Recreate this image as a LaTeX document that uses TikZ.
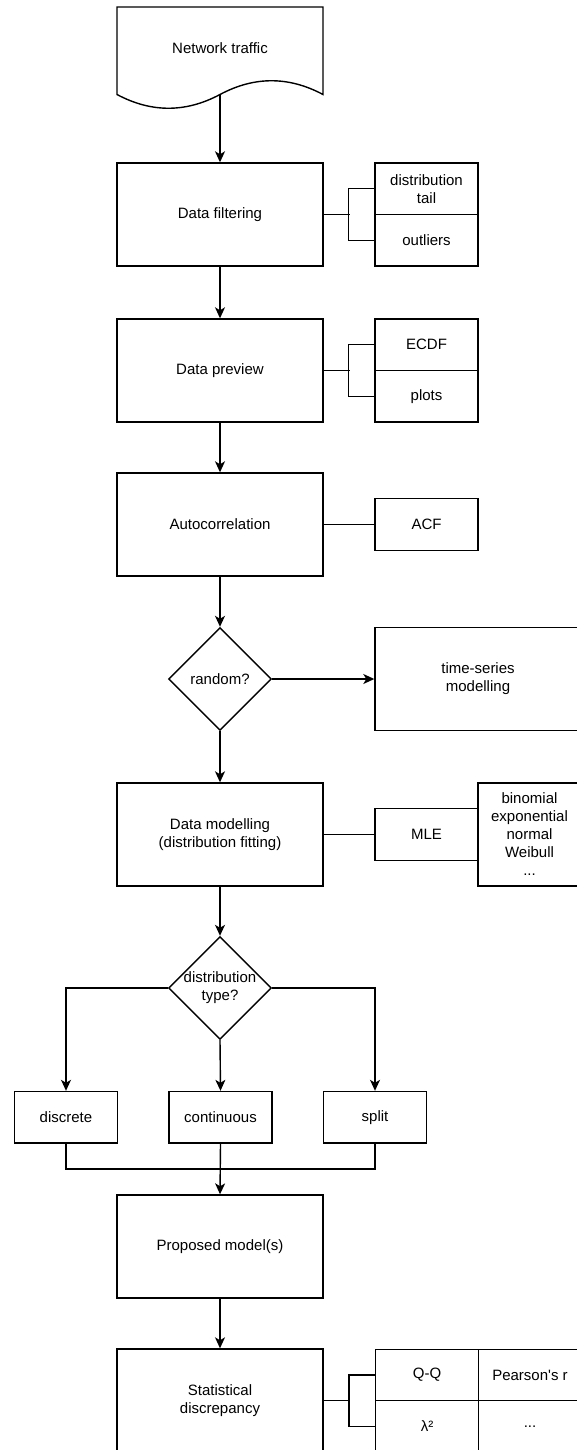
\documentclass[tikz,border=0pt]{standalone}
\usepackage{fontspec}
\setmainfont{Liberation Sans}
\usetikzlibrary{arrows.meta,shapes.geometric}

\tikzset{
  link/.style={draw=black, line width=1.4pt, line join=miter},
  flow/.style={link, -{Stealth[length=11pt,width=10pt,inset=3pt]}},
  base/.style={link, fill=white, align=center, inner sep=0pt,
    font=\fontsize{15pt}{18pt}\selectfont},
  proc/.style={base, minimum width=206pt, minimum height=103pt},
  cell/.style={base, minimum width=103pt, minimum height=51.5pt},
  tallcell/.style={base, minimum width=103pt, minimum height=103pt},
  decide/.style={base, shape=diamond, minimum width=103pt, minimum height=103pt,
    aspect=1},
  caption/.style={align=center, inner sep=0pt,
    font=\fontsize{15pt}{18pt}\selectfont},
}

\begin{document}
\begin{tikzpicture}[x=1pt, y=-1pt]
  \fill[white] (0,0) rectangle (576,1450);
  \useasboundingbox (0,0) rectangle (576,1450);

  % source document with wavy lower edge
  \draw[link, fill=white] (117,7) -- (323,7) -- (323,94.5)
    .. controls (288.67,76.17) and (254.33,76.17) .. (220,94.5)
    .. controls (185.67,112.83) and (151.33,112.83) .. (117,94.5) -- cycle;
  \node[caption] (net) at (220,48) {Network traffic};
  \coordinate (netb) at (220,94.5);

  % main column
  \node[proc] (filt)  at (220,214.5)  {Data filtering};
  \node[proc] (prev)  at (220,370.5)  {Data preview};
  \node[proc] (auto)  at (220,524.5)  {Autocorrelation};
  \node[decide, label={[caption, name=rndt]center:random?}] (rnd) at (220,679) {};
  \node[proc] (model) at (220,834.5)  {Data modelling\\(distribution fitting)};
  \node[decide, label={[caption, name=typt]center:distribution\\type?}] (typ) at (220,988) {};
  \node[proc] (prop)  at (220,1246.5) {Proposed model(s)};
  \node[proc] (stat)  at (220,1400.5) {Statistical\\discrepancy};

  % distribution kinds
  \node[cell] (disc)  at (66,1117.25)    {discrete};
  \node[cell] (cont)  at (220.5,1117.25) {continuous};
  \node[cell] (split) at (375,1117.25)   {split};
  \coordinate (mrg) at (220.5,1169);

  % side items
  \node[cell] (tail)  at (426.5,188.75)  {distribution\\tail};
  \node[cell] (outl)  at (426.5,240.25)  {outliers};
  \node[cell] (ecdf)  at (426.5,344.75)  {ECDF};
  \node[cell] (plots) at (426.5,396.25)  {plots};
  \node[cell] (acf)   at (426.5,524.5)   {ACF};
  \node[proc] (ts)    at (478,679)       {time-series\\modelling};
  \node[cell] (mle)   at (426.5,834.5)   {MLE};
  \node[tallcell] (dists) at (529.5,834.5) {binomial\\exponential\\normal\\Weibull\\...};
  \node[cell] (qq)    at (427,1375)      {Q-Q};
  \node[cell] (pear)  at (530,1375)      {Pearson\textquotesingle s r};
  \node[cell] (lam)   at (427,1426.5)    {λ²};
  \node[cell] (more)  at (530,1426.5)    {...};

  % main flow
  \draw[flow] (netb) -- (filt.north);
  \draw[flow] (filt) -- (prev);
  \draw[flow] (prev) -- (auto);
  \draw[flow] (auto.south) -- (rnd.north);
  \draw[flow] (rnd.east) -- (ts.west);
  \draw[flow] (rnd.south) -- (model.north);
  \draw[flow] (model.south) -- (typ.north);
  \draw[flow] (typ.west) -| (disc.north);
  \draw[flow] (typ.south) -- (cont.north);
  \draw[flow] (typ.east) -| (split.north);
  \draw[link] (disc.south) |- (mrg);
  \draw[link] (split.south) |- (mrg);
  \draw[flow] (cont.south) -- (prop.north);
  \draw[flow] (prop) -- (stat);

  % brackets and side links
  \draw[link] (filt.east) -- ++(26,0);
  \draw[link] (tail.west) -- ++(-26,0) |- (outl.west);
  \draw[link] (prev.east) -- ++(26,0);
  \draw[link] (ecdf.west) -- ++(-26,0) |- (plots.west);
  \draw[link] (auto.east) -- (acf.west);
  \draw[link] (model.east) -- (mle.west);
  \draw[link] (stat.east) -- ++(26,0);
  \draw[link] (qq.west) -- ++(-26,0) |- (lam.west);
\end{tikzpicture}
\end{document}
